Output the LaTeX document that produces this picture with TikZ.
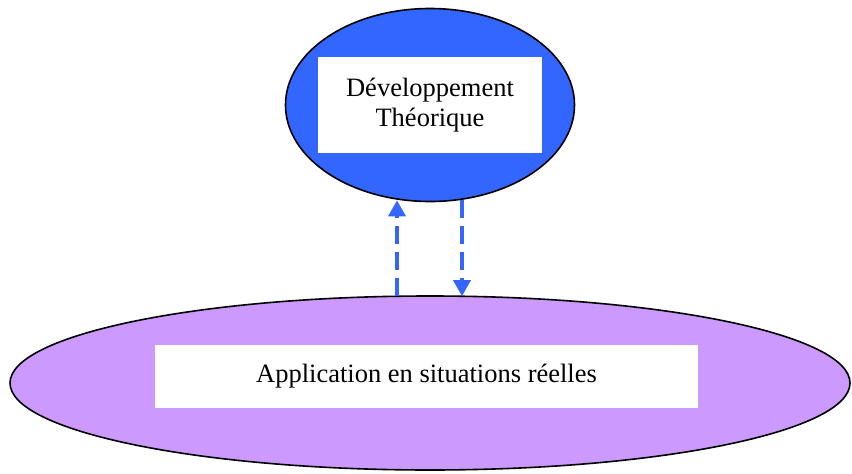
\documentclass[tikz,border=0pt]{standalone}
\usepackage{fontspec}
\setmainfont{Liberation Serif}
\usetikzlibrary{shapes.geometric,arrows.meta,calc}
\definecolor{topblue}{HTML}{3366FF}
\definecolor{lilac}{HTML}{CC99FF}
\tikzset{
  blob/.style={ellipse, draw=black, line width=1.6pt, inner sep=0pt},
  label box/.style={fill=white, inner sep=0pt, align=center,
    font=\fontsize{26.5}{30}\selectfont},
  link/.style={draw=topblue, line width=3.5pt, dash pattern=on 18pt off 8pt,
    -{Triangle[width=17pt,length=16pt]}},
}
\begin{document}
\begin{tikzpicture}[x=1pt,y=-1pt]
  \useasboundingbox (0,0) rectangle (852,474);
  % upper ellipse with its caption box
  \node[blob, fill=topblue, minimum width=289pt, minimum height=193pt] (dev) at (430,105) {};
  \node[label box, minimum width=224pt, minimum height=96pt] (devtxt) at (430,105)
    {Développement\\Théorique};
  % lower ellipse with its caption box
  \node[blob, fill=lilac, minimum width=840pt, minimum height=174pt] (app) at (430,383) {};
  \node[label box, minimum width=543pt, minimum height=63pt] (apptxt) at (426.5,376.5)
    {Application en situations réelles};
  % feedback arrows between the two ellipses
  \coordinate (upS) at ($(app.north)+(-33,1)$);
  \coordinate (upE) at ($(dev.south)+(-33,-2)$);
  \coordinate (dnS) at ($(dev.south)+(32,-2)$);
  \coordinate (dnE) at ($(app.north)+(32,1)$);
  \draw[link] (upS) -- (upE);
  \draw[link] (dnS) -- (dnE);
\end{tikzpicture}
\end{document}
